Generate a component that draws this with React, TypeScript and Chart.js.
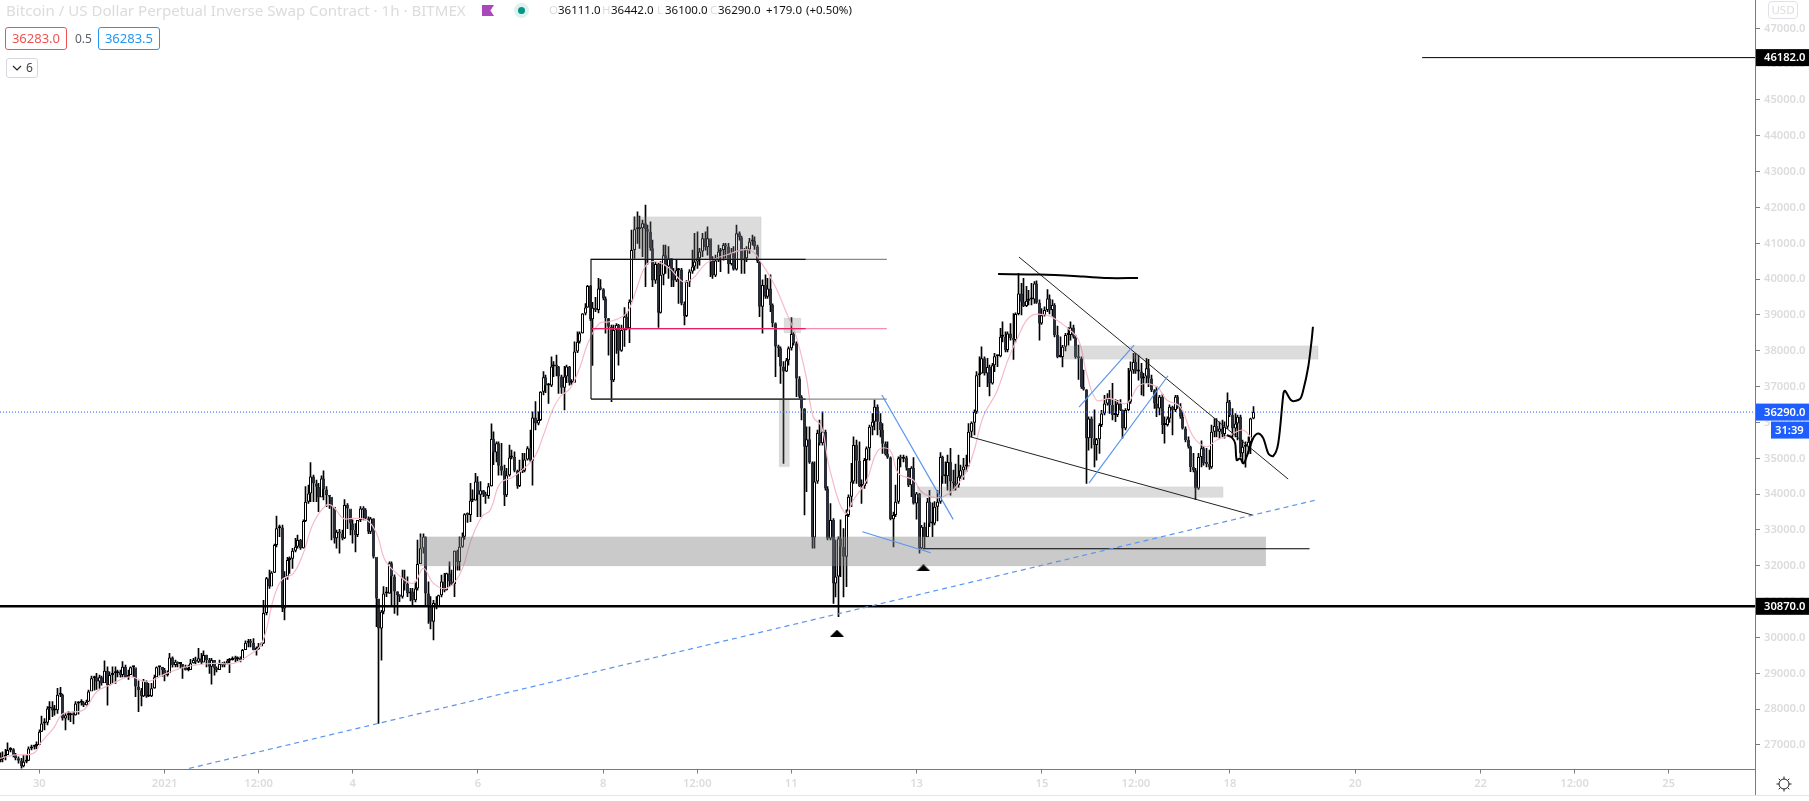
import React, { useEffect, useRef } from "react";
import { Chart, registerables } from "chart.js";

Chart.register(...registerables);

// x values are hours counted from 30 Dec 00:00; the first candle sits at hour -15
const firstHour = -15;

const closes = [
  26600,26670,26720,26860,26880,26720,26630,26560,26410,26530,26560,26900,
  26950,26970,27000,27370,27600,27620,28020,28070,27960,27970,28400,28400,
  27740,27830,27830,27860,27830,28160,28180,28180,28110,28210,28490,28860,
  28890,28770,28890,28720,29070,28670,28950,29000,29000,29050,28950,29180,
  28900,28950,29170,29170,28630,28530,28360,28790,28350,28360,28580,28890,
  29170,29180,29090,28950,29000,29440,29230,29320,29260,29260,29180,29090,
  29090,29280,29370,29320,29420,29300,29510,29370,29180,29370,29140,29090,
  29260,29230,29280,29350,29370,29420,29390,29420,29370,29650,29850,29880,
  29850,29650,29680,29750,29830,30680,31650,31420,31810,32580,33050,33070,
  30810,31700,32160,32200,32420,32530,32720,32490,33250,33790,34020,34490,
  34300,34210,33910,34440,34130,33970,33930,33650,32770,32950,32900,32770,
  33700,33600,33180,33000,32860,33280,33600,33560,33320,32950,33320,32250,
  31090,30250,30720,31230,31230,32070,31700,31280,31180,31140,31650,31500,
  31230,31280,31040,31370,32050,32490,32810,31230,30860,30440,30960,30860,
  31180,31560,31320,31790,31560,31490,32420,32110,32530,32810,33440,33420,
  33820,33820,34350,33980,34110,33980,33950,34220,35540,35160,35420,34790,
  34650,33970,34530,35020,35040,34650,34230,34650,34650,34970,35280,34930,
  36140,35970,36070,36860,37260,37030,37030,37560,37600,37560,37280,36970,
  37280,37560,37110,37110,37980,38250,38490,39040,39210,39810,38880,39200,
  39140,39740,39720,39460,38910,38670,37180,38580,38720,38000,38580,38950,
  38630,39370,40810,41390,41390,41420,41560,41390,41320,40860,39960,40420,
  39060,40120,40670,40350,40580,40210,39960,40250,40270,39320,38970,39930,
  40210,40350,40490,40580,40770,41140,40890,41140,40530,40100,40520,40770,
  40810,40950,40910,40420,40720,40270,41280,41170,40530,40580,40830,41050,
  41070,40910,40490,39230,39840,39510,39740,39280,38770,38120,38070,37560,
  37420,37740,38070,38470,38210,37230,36720,36390,35320,35530,34880,32790,
  34350,35710,35420,35740,34160,32760,33280,31510,31700,32760,32530,32250,
  33420,33930,34350,35370,34930,34230,34230,34950,35280,35880,36020,36440,
  36020,35790,35410,35120,35020,33300,33420,33790,35000,34990,35020,34740,
  34250,34740,33740,34020,32490,33090,32800,33790,33180,33180,33650,33790,
  35040,34500,34500,34900,34350,34300,34250,34490,34670,34770,34780,35740,
  35990,36300,37320,37370,37790,37370,37550,37090,37600,37850,37850,38390,
  38390,38020,38480,38350,38300,39030,39600,39370,39250,39400,39430,39430,
  39880,39340,38760,38990,39140,39460,39140,39280,38440,37830,37830,38110,
  38440,38440,38650,38390,37830,37790,36990,36920,35560,36110,35560,35370,
  35530,35930,36250,36530,36670,36490,36210,36210,36530,36350,35830,36350,
  36580,37460,37690,37420,37420,37230,37280,37510,37230,36900,36530,36390,
  36720,35930,35930,36110,36440,36350,36720,36440,36160,35830,35510,35320,
  34760,34670,34160,35040,35280,34860,34840,34750,35740,35900,35740,35830,
  35680,35880,36580,36210,35830,35970,36160,35140,35320,35320,35460,36111,
  36290,
];

const highs = [
  26780,26810,26880,27060,26930,26900,26770,26670,26630,26720,26720,26950,
  27000,27000,27090,27420,27810,27740,28070,28210,28210,28110,28580,28610,
  28420,27880,27930,27900,27930,28210,28210,28270,28210,28250,28530,28920,
  28920,29000,28950,28920,29350,29180,29040,29180,29180,29090,29090,29330,
  29230,29090,29180,29200,28990,28790,28580,28830,28790,28720,28720,28950,
  29180,29180,29170,29140,29070,29560,29460,29370,29320,29290,29230,29230,
  29230,29390,29420,29450,29700,29560,29630,29510,29420,29420,29230,29180,
  29370,29300,29320,29390,29420,29460,29480,29460,29460,29670,29910,29950,
  29950,29970,29740,29840,29850,31040,31680,31880,31840,32610,33390,33140,
  33140,31840,32240,32250,32490,32770,32860,32740,33280,34210,34250,34880,
  34530,34390,34300,34510,34650,34210,33950,33880,32950,33000,33020,33000,
  33850,33740,33510,33280,33180,33180,33650,33650,33600,33370,33350,33320,
  32210,31060,30760,31420,31400,32110,32110,31750,31280,31200,31880,31880,
  31690,31370,31370,31550,32720,32890,32890,32810,31550,31140,31040,31140,
  31180,31740,31790,31800,32110,31880,32420,32440,32810,32920,33460,33480,
  34300,34120,34580,34490,34350,34110,34060,34300,35960,35740,35460,35460,
  35420,34810,34720,35370,35230,35180,34670,34950,35140,35140,35330,35790,
  36300,36580,36300,36860,37420,37320,37090,37830,37700,37880,37570,37320,
  37570,37600,37570,37200,38250,38530,38530,39040,39320,39830,39830,39350,
  39490,40020,39990,39740,39510,38910,38720,38720,38760,38740,38720,39210,
  39050,39420,41370,41740,41880,41760,41650,42070,41510,41600,41090,40490,
  40440,40490,40950,40950,40910,40580,40300,40550,40300,40300,39370,39960,
  40270,40810,41280,41320,40860,41280,41320,41460,40950,40630,40670,40950,
  40860,41000,41000,41000,40860,40910,41510,41320,41200,40860,40910,41140,
  41230,41180,40950,40490,39980,40120,40020,40120,39310,38780,38160,38110,
  37700,37790,38110,38930,38510,38250,37280,36750,36390,35880,35880,34900,
  34900,35790,36070,36300,35790,34210,33740,33320,32720,32810,33280,33040,
  33560,33980,34860,35600,35510,35460,34400,35000,35320,35930,36250,36630,
  36490,36250,35970,35460,35460,35040,33500,34250,35040,35090,35090,35060,
  34720,34770,35020,34050,34020,33130,33200,33880,34110,33760,33790,34110,
  35160,35060,34900,35090,35280,34670,34840,35090,34810,35000,35090,35970,
  36020,36350,37420,37830,38110,37830,37790,37600,37650,37930,37880,38630,
  38810,38530,38530,38760,39040,39060,40160,39880,40020,39800,39690,39880,
  39930,39950,39420,39180,39230,39710,39560,39420,39320,38690,38390,38150,
  38490,38650,38810,38720,38440,38160,37830,37460,36920,36160,36160,36350,
  35560,35970,36340,36760,36810,36900,37090,36640,36620,36640,36350,36390,
  37510,37690,37930,37930,37880,37650,37370,37790,37760,37320,36920,37000,
  36760,36790,36160,36160,36490,36460,36760,36760,36530,36300,35880,35600,
  35340,35140,34720,35140,35490,35320,35280,35230,35930,36110,36110,36020,
  36070,36020,36830,36620,36390,36250,36210,36210,35510,35460,35600,36120,
  36442,
];

const lows = [
  26530,26530,26580,26770,26810,26670,26580,26490,26350,26390,26500,26560,
  26860,26880,26900,27030,27370,27420,27560,27710,27790,27830,27880,28350,
  27690,27420,27700,27650,27590,27830,27860,28110,28070,28110,28210,28530,
  28530,28550,28580,28670,28890,28110,28670,28720,28720,28900,28890,28900,
  28880,28830,29000,28900,28350,27930,28090,28350,28330,28350,28350,28580,
  28920,28950,28920,28790,28920,29180,29170,29180,29180,29140,28860,29090,
  29070,29180,29280,29260,29300,29260,29320,29180,29000,28700,28950,29040,
  29180,29180,29180,29260,29020,29370,29320,29350,29320,29420,29740,29740,
  29740,29650,29510,29670,29820,29830,30630,31370,31790,31810,32530,32810,
  30720,30490,31620,31790,31930,32390,32490,32460,32490,33230,33740,33790,
  33790,33790,33510,33930,33840,33650,33600,32720,32630,32490,32350,32720,
  32760,33040,32860,32630,32390,32810,33230,33280,33280,32900,32900,32210,
  30300,27600,29370,30660,31140,31230,30860,30670,30620,31000,31100,31320,
  31140,31020,30900,30990,31320,32300,32350,30860,30390,30240,29930,30800,
  30860,31130,31270,31320,31420,31460,31140,31880,31880,32510,32740,33210,
  33230,33790,33830,33370,33370,33930,33740,33880,34220,34820,34900,34530,
  34530,33680,33930,34500,34980,34620,34160,34210,34600,34620,34950,34900,
  34250,35790,35930,36050,36770,36830,36530,37000,37280,37300,36810,36810,
  36350,37110,37040,37060,37370,37950,38210,38490,39000,39210,38840,37590,
  39090,39060,39700,39420,38490,37880,36580,37140,37930,37600,37980,38120,
  38580,38230,39370,40580,41000,40860,40630,39790,40420,40800,39790,39880,
  38650,39050,39840,40160,40020,39790,39790,39930,39320,39280,38720,38950,
  39790,40160,40250,40300,40390,40630,40810,40670,40070,40020,40070,40490,
  40210,40530,40580,40160,40390,40250,40250,41090,40160,40160,40490,40720,
  40950,40830,40460,38950,38490,39460,39460,39090,38670,37280,37840,37090,
  34860,37420,37600,38020,38160,36720,36670,36070,33420,34070,34860,32490,
  32490,34300,35370,35370,34110,32720,32720,30950,31130,30580,31700,31130,
  31420,33370,33650,34300,34300,34210,33740,34160,34300,34950,35650,35790,
  35650,35600,35140,35090,35000,33280,32530,33370,33740,34760,34900,34670,
  34210,33930,33720,33300,32350,32470,32500,32810,33090,32810,33140,33250,
  33740,34300,34300,34110,33970,34110,34110,34190,34440,34410,34630,34770,
  35600,35650,36250,37000,37370,37320,37000,36740,37070,37420,37560,37830,
  38250,37970,37970,38300,37760,38250,39000,39000,39230,39230,39280,39280,
  39320,39320,38300,38740,38970,39090,39030,38970,38390,37800,37820,37550,
  38000,38160,38300,38350,37790,37200,36950,36900,34300,35230,35280,34760,
  34950,35140,35880,36210,36480,36250,36070,36020,36160,36330,35560,35790,
  36330,36530,37370,37370,37180,36770,36740,37090,37000,36860,36390,36160,
  36210,35690,35420,35900,36000,35650,36300,36390,36110,35810,35460,35280,
  34630,34620,33850,34130,34760,34810,34760,34690,34720,35600,35600,35560,
  35600,35560,35830,36160,35600,35600,35510,35040,34860,34750,35140,35130,
  36100,
];

// moving average, read at irregular hours
const maHours = [-15,-10,-2.3,0.9,5.4,9.2,16.9,22,27,34.7,41.1,48.8,56.4,66.7,74.3,79.4,85.2,89.6,92.8,97.3,101.1,104.9,110,112.6,116.4,120.3,125.4,129.2,132.4,136.9,143.3,147.1,151,156,161.2,165.6,169.5,172.7,176.5,181.6,189.3,193.1,196.3,199.5,203.3,207.1,210.1,214.5,218.4,224.8,228.6,232.4,236.2,241.4,246.5,250.3,255.4,263,272,277.1,281.6,286,289.9,293.7,296.4,299.6,302.8,308.6,311.8,316.9,321.3,325.8,329,334.7,338.6,346.2,353.9,357.7,361.5,366.7,370.5,374.3,379.4,385.8,389.6,393.5,398,401.1,404.9,410,416.4,421.5,427.9,431.8,436.9,442,447,450.9,456,461,464.3];
const maValues = [26626,26719,26765,27091,27463,27881,27975,28486,28672,28905,28765,28998,29184,29277,29277,29463,29835,31045,31603,31789,32347,33184,33696,33649,33324,33324,33277,32905,32161,31789,31509,31928,31509,31369,31788,32765,33370,33555,34300,34486,34997,35649,36300,36718,36951,37556,38208,38766,38812,39045,39696,40394,40487,40301,39929,40022,40440,40673,40813,40394,39836,39091,38394,37277,36161,35882,34672,33463,33835,34394,35230,35230,34580,34394,34021,33928,34486,35137,36161,36860,37649,38300,38951,38998,38858,38654,38300,37370,36626,36672,36532,37044,36998,36626,36440,35602,35323,35509,35649,35788,35555];

// grey zones: hour from, hour to, price high, price low
const zones = [
  { h1: 227.3, h2: 276.4, p1: 41742, p2: 40533, alpha: 0.28 },
  { h1: 285.2, h2: 291.6, p1: 38915, p2: 38496, alpha: 0.28 },
  { h1: 283.3, h2: 287.2, p1: 36654, p2: 34764, alpha: 0.28 },
  { h1: 145.8, h2: 469.7, p1: 32811, p2: 31993, alpha: 0.42 },
  { h1: 336.2, h2: 453.3, p1: 34206, p2: 33910, alpha: 0.28 },
  { h1: 392.1, h2: 489.7, p1: 38142, p2: 37762, alpha: 0.28 },
];

// drawings: [hour, price] pairs
const hourMin = -15.05;
const hourMax = 657.1;
const levelTop = [[211.3, 36654], [211.3, 40553], [293.5, 40553]];
const levelBottom = [[211.3, 36654], [293.5, 36654]];
const levelTopLong = [[211.3, 40553], [324.6, 40553]];
const levelBottomLong = [[211.3, 36654], [324.6, 36654]];
const levelMid = [[211.3, 38617], [293.5, 38617]];
const levelMidLong = [[211.3, 38617], [324.6, 38617]];
const level46182 = [[529.6, 46182], [hourMax, 46182]];
const level30870 = [[hourMin, 30870], [hourMax, 30870]];
const level32476 = [[338.4, 32476], [486.5, 32476]];
const lastPrice = [[hourMin, 36290], [hourMax, 36290]];
const wedgeUpper = [[375.2, 40617], [478.3, 34421]];
const wedgeLower = [[356.5, 35602], [464.7, 33416]];
const blueFall = [[322.7, 36766], [350, 33295]];
const blueLow = [[315.2, 32950], [341.4, 32364]];
const blueChannelA = [[398.2, 36430], [419.3, 38161]];
const blueChannelB = [[402, 34309], [432.3, 37304]];
const blueTrend = [[57.4, 26346], [489.5, 33846]];
const brushTop = [[367.2, 40142], [383.3, 40129], [399.7, 40073], [408.9, 40031], [420.8, 40031]];
const brushPath = [[454.8,35649],[456.7,35584],[458,35416],[458.6,34951],[459.9,34997],[461.2,34858],[462.4,35044],[463.7,35323],[465.2,35602],[466.9,35695],[468.8,35556],[470.7,35137],[472.6,35063],[474.5,35416],[476.5,36812],[477.1,36886],[479.7,36607],[482.8,36653],[484.1,36905],[486,37556],[487.3,38300],[487.8,38672]];
const markers = [[305.5, 30120], [338.6, 31945]];

// axis ticks
const xTickHours = [0, 48, 84, 120, 168, 216, 252, 288, 336, 384, 420, 456, 504, 552, 588, 624];
const xTickLabels = ["30", "2021", "12:00", "4", "6", "8", "12:00", "11", "13", "15", "12:00", "18", "20", "22", "12:00", "25"];
const yTicks = [27000,28000,29000,30000,31000,32000,33000,34000,35000,36000,37000,38000,39000,40000,41000,42000,43000,44000,45000,46000,47000];

const priceTags = [
  { value: 46182, text: "46182.0", color: "#000000" },
  { value: 30870, text: "30870.0", color: "#000000" },
  { value: 36290, text: "36290.0", color: "#1e5eff" },
];

const pts = (a: number[][]) => a.map(([x, y]) => ({ x, y }));

const lineDs = (data: number[][], color: string, width: number, order: number, extra: any = {}) => ({
  type: "line",
  data: pts(data),
  borderColor: color,
  borderWidth: width,
  pointRadius: 0,
  tension: 0,
  fill: false,
  order,
  ...extra,
});

const FONT = "'Noto Sans', sans-serif";
const TICK = "#dcdcdc";
const AXIS = "#787b86";
const AXIS_SIZE = 11.2;

// keeps the candle columns on whole pixels, as the original chart does
const snapPlugin = {
  id: "snap",
  beforeDatasetsDraw(chart: any) {
    chart.getSortedVisibleDatasetMetas().forEach((meta: any) => {
      if (meta.type !== "bar") return;
      meta.data.forEach((el: any) => {
        el.x = Math.round(el.x - 0.5) + 0.5;
      });
    });
  },
};

const tagsPlugin = {
  id: "tags",
  afterDraw(chart: any) {
    const { ctx, scales } = chart;
    const y = scales.y;
    const right = chart.chartArea.right;
    ctx.save();
    ctx.fillStyle = AXIS;
    ctx.fillRect(right, chart.chartArea.bottom, 1, 795 - chart.chartArea.bottom);
    ctx.font = `600 ${AXIS_SIZE}px ${FONT}`;
    ctx.textBaseline = "middle";
    ctx.textAlign = "left";
    priceTags.forEach((t) => {
      const py = y.getPixelForValue(t.value);
      ctx.fillStyle = t.color;
      ctx.fillRect(right + 1, py - 8.5, 54, 17);
      ctx.fillStyle = "#ffffff";
      ctx.fillText(t.text, right + 9, py + 0.5);
    });
    const last = y.getPixelForValue(36290);
    ctx.fillStyle = "#1e5eff";
    ctx.fillRect(1771, last + 9.5, 38, 17);
    ctx.fillStyle = "#ffffff";
    ctx.fillText("31:39", 1775, last + 18.5);
    ctx.restore();
  },
};

const noPad = (s: any) => {
  s.paddingTop = 0;
  s.paddingBottom = 0;
  s.paddingLeft = 0;
  s.paddingRight = 0;
};

const abs = (left: number, top: number, extra: any = {}): any => ({
  position: "absolute",
  left,
  top,
  whiteSpace: "nowrap",
  fontFamily: FONT,
  ...extra,
});

export default function App() {
  const ref = useRef<HTMLCanvasElement>(null);

  useEffect(() => {
    const tri = document.createElement("canvas");
    tri.width = 14;
    tri.height = 7;
    const tc = tri.getContext("2d")!;
    tc.fillStyle = "#000";
    tc.beginPath();
    tc.moveTo(7, 0);
    tc.lineTo(14, 7);
    tc.lineTo(0, 7);
    tc.closePath();
    tc.fill();

    const hours = closes.map((_, i) => firstHour + i);
    const opens = closes.map((c, i) => (i === 0 ? 26580 : closes[i - 1]));

    const datasets: any[] = [
      {
        type: "bar",
        data: hours.map((h, i) => ({ x: h, y: [lows[i], highs[i]] })),
        backgroundColor: "#000000",
        barThickness: 1,
        grouped: false,
        order: 31,
      },
      {
        type: "bar",
        data: hours.map((h, i) => ({ x: h, y: [opens[i], closes[i]] })),
        backgroundColor: closes.map((c, i) => (c >= opens[i] ? "#ffffff" : "#2a2e39")),
        borderColor: closes.map((c, i) => (c >= opens[i] ? "#000000" : "#2a2e39")),
        borderWidth: 1,
        borderSkipped: false,
        inflateAmount: 0,
        minBarLength: 2,
        barThickness: 3,
        grouped: false,
        order: 30,
      },
      lineDs(maHours.map((h, i) => [h, maValues[i]]), "#f5bac8", 1.2, 20, { tension: 0.4 }),
      ...zones.map((z) => ({
        type: "line",
        data: pts([[z.h1, z.p1], [z.h2, z.p1], [z.h2, z.p2], [z.h1, z.p2], [z.h1, z.p1]]),
        borderColor: "rgba(128,128,128,0.06)",
        borderWidth: 1,
        backgroundColor: `rgba(128,128,128,${z.alpha})`,
        pointRadius: 0,
        tension: 0,
        fill: "shape",
        order: 10,
      })),
      lineDs(lastPrice, "#1e5eff", 1, 9, { borderDash: [1, 2] }),
      lineDs(levelTopLong, "#8a8a8a", 1.2, 8),
      lineDs(levelBottomLong, "#8a8a8a", 1.2, 8),
      lineDs(levelMidLong, "#f48fb1", 1.2, 8),
      lineDs(levelTop, "#111111", 1.2, 7),
      lineDs(levelBottom, "#222222", 1.2, 7),
      lineDs(levelMid, "#e91e63", 1.2, 7),
      lineDs(level46182, "#000000", 1, 6),
      lineDs(level30870, "#000000", 2.5, 6),
      lineDs(level32476, "#000000", 1, 6),
      lineDs(wedgeUpper, "#222222", 1, 6),
      lineDs(wedgeLower, "#222222", 1, 6),
      lineDs(blueFall, "#5b95ef", 1.2, 5),
      lineDs(blueLow, "#5b95ef", 1.2, 5),
      lineDs(blueChannelA, "#5b95ef", 1.2, 5),
      lineDs(blueChannelB, "#5b95ef", 1.2, 5),
      lineDs(blueTrend, "#5b95ef", 1.2, 5, { borderDash: [5, 4] }),
      lineDs(brushTop, "#000000", 2, 4, { tension: 0.3 }),
      lineDs(brushPath, "#000000", 2, 4, { tension: 0.3 }),
      {
        type: "scatter",
        data: pts(markers),
        pointStyle: tri,
        pointRadius: 7,
        showLine: false,
        order: 3,
      },
    ];

    const chart = new Chart(ref.current!, {
      type: "bar",
      data: { datasets },
      plugins: [snapPlugin, tagsPlugin],
      options: {
        responsive: false,
        animation: false,
        events: [],
        layout: { padding: 0, autoPadding: false },
        plugins: { legend: { display: false }, tooltip: { enabled: false }, title: { display: false } },
        scales: {
          x: {
            type: "linear",
            min: hourMin,
            max: hourMax,
            offset: false,
            grid: { drawOnChartArea: false, drawTicks: true, tickLength: 4, color: AXIS, offset: false },
            border: { color: AXIS, width: 1 },
            afterBuildTicks: (s: any) => {
              s.ticks = xTickHours.map((value) => ({ value }));
            },
            ticks: {
              autoSkip: false,
              maxRotation: 0,
              minRotation: 0,
              padding: 4,
              color: TICK,
              font: { family: FONT, size: AXIS_SIZE, weight: "600" },
              callback: (_v: any, i: number) => xTickLabels[i],
            },
            afterFit: (s: any) => {
              s.height = 31.5;
              noPad(s);
            },
          },
          y: {
            type: "linear",
            position: "right",
            min: 26316,
            max: 47790,
            grid: { drawOnChartArea: false, drawTicks: true, tickLength: 5, color: AXIS },
            border: { color: AXIS, width: 1 },
            afterBuildTicks: (s: any) => {
              s.ticks = yTicks.map((value) => ({ value }));
            },
            ticks: {
              autoSkip: false,
              padding: 4,
              color: TICK,
              font: { family: FONT, size: AXIS_SIZE, weight: "600" },
              callback: (v: any) => Number(v).toFixed(1),
            },
            afterFit: (s: any) => {
              s.width = 54;
              noPad(s);
            },
          },
        },
      } as any,
    } as any);
    return () => chart.destroy();
  }, []);

  const light = "#dcdcdc";
  const num = { fontSize: 11.5, color: "#111", lineHeight: "20px" };
  const let_ = { fontSize: 11.5, color: light, lineHeight: "20px" };

  return (
    <div style={{ position: "fixed", left: 0, top: 0, width: 1809, height: 801, background: "#fff", overflow: "hidden" }}>
      <canvas ref={ref} width={1809} height={801} style={{ position: "absolute", left: 0, top: 0, display: "block" }} />
      <div style={abs(6, 0, { fontSize: 15.1, color: light, lineHeight: "20px" })}>
        Bitcoin / US Dollar Perpetual Inverse Swap Contract · 1h · BITMEX
      </div>
      <div style={{ position: "absolute", left: 482, top: 5, width: 12, height: 11, background: "#ab47bc", clipPath: "polygon(0 0,100% 0,70% 50%,100% 100%,0 100%)" }} />
      <div style={{ position: "absolute", left: 514, top: 3, width: 15, height: 15, borderRadius: 8, background: "#dff1ef" }} />
      <div style={{ position: "absolute", left: 518, top: 7, width: 7, height: 7, borderRadius: 4, background: "#009688" }} />
      <div style={abs(549, 0, let_)}>O</div>
      <div style={abs(558, 0, num)}>36111.0</div>
      <div style={abs(602, 0, let_)}>H</div>
      <div style={abs(611, 0, num)}>36442.0</div>
      <div style={abs(657, 0, let_)}>L</div>
      <div style={abs(665, 0, num)}>36100.0</div>
      <div style={abs(710, 0, let_)}>C</div>
      <div style={abs(718, 0, num)}>36290.0</div>
      <div style={abs(766, 0, num)}>+179.0</div>
      <div style={abs(806, 0, num)}>(+0.50%)</div>
      <div style={abs(5, 27, { width: 62, height: 23, boxSizing: "border-box", border: "1px solid #ef5350", borderRadius: 3, color: "#ef5350", fontSize: 13, textAlign: "center", lineHeight: "21px" })}>36283.0</div>
      <div style={abs(75, 31, { fontSize: 12, color: "#5d606b", lineHeight: "16px" })}>0.5</div>
      <div style={abs(98, 27, { width: 62, height: 23, boxSizing: "border-box", border: "1px solid #2196f3", borderRadius: 3, color: "#2196f3", fontSize: 13, textAlign: "center", lineHeight: "21px" })}>36283.5</div>
      <div style={abs(6, 58, { width: 32, height: 20, boxSizing: "border-box", border: "1px solid #d6d8e0", borderRadius: 3, color: "#444", fontSize: 12, lineHeight: "18px" })}>
        <svg width="10" height="6" style={{ position: "absolute", left: 5, top: 6 }}><path d="M1 1 L5 5 L9 1" fill="none" stroke="#222" strokeWidth="1.2" /></svg>
        <span style={{ position: "absolute", left: 19, top: 0 }}>6</span>
      </div>
      <div style={abs(1768, 1, { width: 30, height: 18, boxSizing: "border-box", border: "1px solid #dfe1e8", borderRadius: 4, color: light, fontSize: 11.5, textAlign: "center", lineHeight: "16px" })}>USD</div>
      <div style={{ position: "absolute", left: 0, top: 795, width: 1809, height: 1, background: "#e3e5ee" }} />
      <svg width="18" height="18" style={{ position: "absolute", left: 1775, top: 775 }}>
        <circle cx="9" cy="9" r="5" fill="none" stroke="#222" strokeWidth="1" />
        <path d="M9 1.5V4M9 14V16.5M1.5 9H4M14 9H16.5M3.7 3.7L5.4 5.4M12.6 12.6L14.3 14.3M3.7 14.3L5.4 12.6M12.6 5.4L14.3 3.7" stroke="#222" strokeWidth="1" />
      </svg>
    </div>
  );
}
